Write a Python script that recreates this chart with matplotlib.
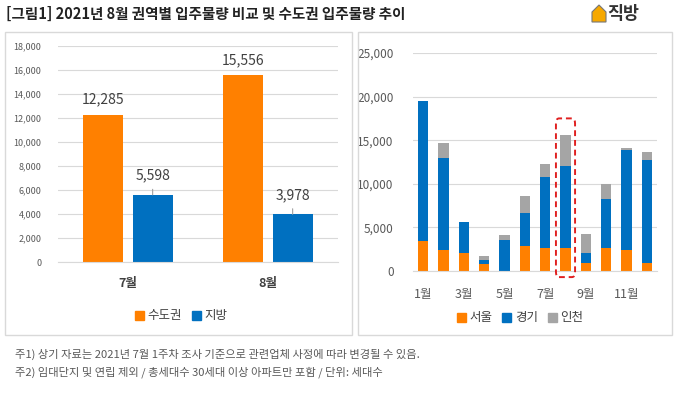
import matplotlib
matplotlib.use('Agg')
import matplotlib.pyplot as plt
from matplotlib.patches import Rectangle, FancyBboxPatch, Polygon, Patch

plt.rcParams['font.family'] = ['Noto Sans CJK KR', 'DejaVu Sans']

# left chart: 권역별 입주물량
left_cats = ['7월', '8월']
capital = [12285, 15556]
local = [5598, 3978]

# right chart: 수도권 월별 입주물량 (stacked)
months = ['1월', '2월', '3월', '4월', '5월', '6월', '7월', '8월', '9월', '10월', '11월', '12월']
seoul = [3440, 2410, 2030, 840, 0, 2870, 2640, 2640, 960, 2640, 2410, 960]
gyeonggi = [16000, 10590, 3550, 420, 3520, 3820, 8180, 9400, 1100, 5620, 11430, 11810]
incheon = [0, 1680, 0, 420, 570, 1910, 1410, 3516, 2140, 1720, 230, 840]

ORANGE = '#FF8000'
BLUE = '#0070C0'
GRAY = '#A5A5A5'
TXT = '#595959'

W, H = 680, 399
fig = plt.figure(figsize=(W / 100, H / 100), dpi=100)


def fx(px):
    return px / W


def fy(py):
    return 1 - py / H


# panel frames
for x0, x1 in [(5, 352), (358, 672)]:
    fig.patches.append(Rectangle((fx(x0), fy(335)), fx(x1 - x0), (335 - 32) / H,
                                 transform=fig.transFigure, fill=False,
                                 edgecolor='#D9D9D9', lw=1))

# title + logo
fig.text(fx(6), fy(14), '[그림1] 2021년 8월 권역별 입주물량 비교 및 수도권 입주물량 추이',
         fontsize=10.5, fontweight='bold', color='#222222', va='center', ha='left')
house = Polygon([(fx(592), fy(22)), (fx(592), fy(12)), (fx(599), fy(5)),
                 (fx(606), fy(12)), (fx(606), fy(22))], closed=True,
                transform=fig.transFigure, facecolor='#F6A800', edgecolor='#777777', lw=0.8)
fig.patches.append(house)
fig.text(fx(607), fy(14), '직방', fontsize=12.5, fontweight='bold', color='#333333',
         va='center', ha='left')

# ---- left chart ----
ax1 = fig.add_axes([fx(58), fy(262), fx(280), 216 / H])
xs = range(len(left_cats))
off, bw = 0.176, 0.286
ax1.bar([x - off for x in xs], capital, width=bw, color=ORANGE, zorder=2)
ax1.bar([x + off for x in xs], local, width=bw, color=BLUE, zorder=2)
ax1.set_xlim(-0.5, 1.5)
ax1.set_ylim(0, 18000)
ax1.set_yticks(range(0, 18001, 2000))
ax1.set_yticklabels([f'{v:,}' for v in range(0, 18001, 2000)], fontsize=6.5, color=TXT)
ax1.set_xticks(list(xs))
ax1.set_xticklabels(left_cats, fontsize=9, fontweight='bold', color='#404040')
ax1.tick_params(length=0, pad=11)
ax1.tick_params(axis='y', pad=12)
ax1.grid(axis='y', color='#D9D9D9', lw=0.8, zorder=0)
for s in ax1.spines.values():
    s.set_visible(False)
ax1.spines['bottom'].set_visible(True)
ax1.spines['bottom'].set_color('#D9D9D9')

for x, v in zip(xs, capital):
    ax1.annotate(f'{v:,}', (x - off, v), xytext=(0, 11), textcoords='offset points',
                 ha='center', va='center', fontsize=10, color='#404040')
for x, v in zip(xs, local):
    ax1.annotate(f'{v:,}', (x + off, v), xytext=(0, 14), textcoords='offset points',
                 ha='center', va='center', fontsize=10, color='#404040',
                 arrowprops=dict(arrowstyle='-', color='#A0A0A0', lw=0.8,
                                 shrinkA=3, shrinkB=0))

fig.legend([Patch(color=ORANGE), Patch(color=BLUE)], ['수도권', '지방'],
           loc='center', bbox_to_anchor=(fx(181), fy(316)), ncol=2, frameon=False,
           fontsize=9, handlelength=0.7, handleheight=0.7, handletextpad=0.3,
           columnspacing=0.8, labelcolor='#404040')

# ---- right chart ----
ax2 = fig.add_axes([fx(413), fy(271), fx(244), 218 / H])
mx = range(len(months))
bot2 = seoul
bot3 = [a + b for a, b in zip(seoul, gyeonggi)]
ax2.bar(mx, seoul, width=0.5, color=ORANGE, zorder=2)
ax2.bar(mx, gyeonggi, width=0.5, bottom=bot2, color=BLUE, zorder=2)
ax2.bar(mx, incheon, width=0.5, bottom=bot3, color=GRAY, zorder=2)
ax2.set_xlim(-0.5, 11.5)
ax2.set_ylim(0, 25000)
ax2.set_yticks(range(0, 25001, 5000))
ax2.set_yticklabels([f'{v:,}' for v in range(0, 25001, 5000)], fontsize=8.5, color=TXT)
ax2.set_xticks(list(mx)[::2])
ax2.set_xticklabels(months[::2], fontsize=9, color=TXT)
ax2.tick_params(length=0, pad=12)
ax2.tick_params(axis='y', pad=14)
ax2.grid(axis='y', color='#D9D9D9', lw=0.8, zorder=0)
for s in ax2.spines.values():
    s.set_visible(False)
ax2.spines['bottom'].set_visible(True)
ax2.spines['bottom'].set_color('#D9D9D9')

hl = months.index('8월')
box = FancyBboxPatch((hl - 0.47, -700), 0.94, 18200,
                     boxstyle='round,pad=0,rounding_size=0.15', mutation_aspect=4000,
                     fill=False, edgecolor='#E02020', lw=1.4, ls=(0, (3, 2)),
                     clip_on=False, zorder=3)
ax2.add_patch(box)

fig.legend([Patch(color=ORANGE), Patch(color=BLUE), Patch(color=GRAY)],
           ['서울', '경기', '인천'],
           loc='center', bbox_to_anchor=(fx(520), fy(318)), ncol=3, frameon=False,
           fontsize=9, handlelength=0.7, handleheight=0.7, handletextpad=0.3,
           columnspacing=0.8, labelcolor='#404040')

# footnotes
fig.text(fx(15), fy(354), '주1) 상기 자료는 2021년 7월 1주차 조사 기준으로 관련업체 사정에 따라 변경될 수 있음.',
         fontsize=8.1, color=TXT, va='center')
fig.text(fx(15), fy(372), '주2) 임대단지 및 연립 제외 / 총세대수 30세대 이상 아파트만 포함 / 단위: 세대수',
         fontsize=8.1, color=TXT, va='center')

fig.savefig('out.png', dpi=100)
